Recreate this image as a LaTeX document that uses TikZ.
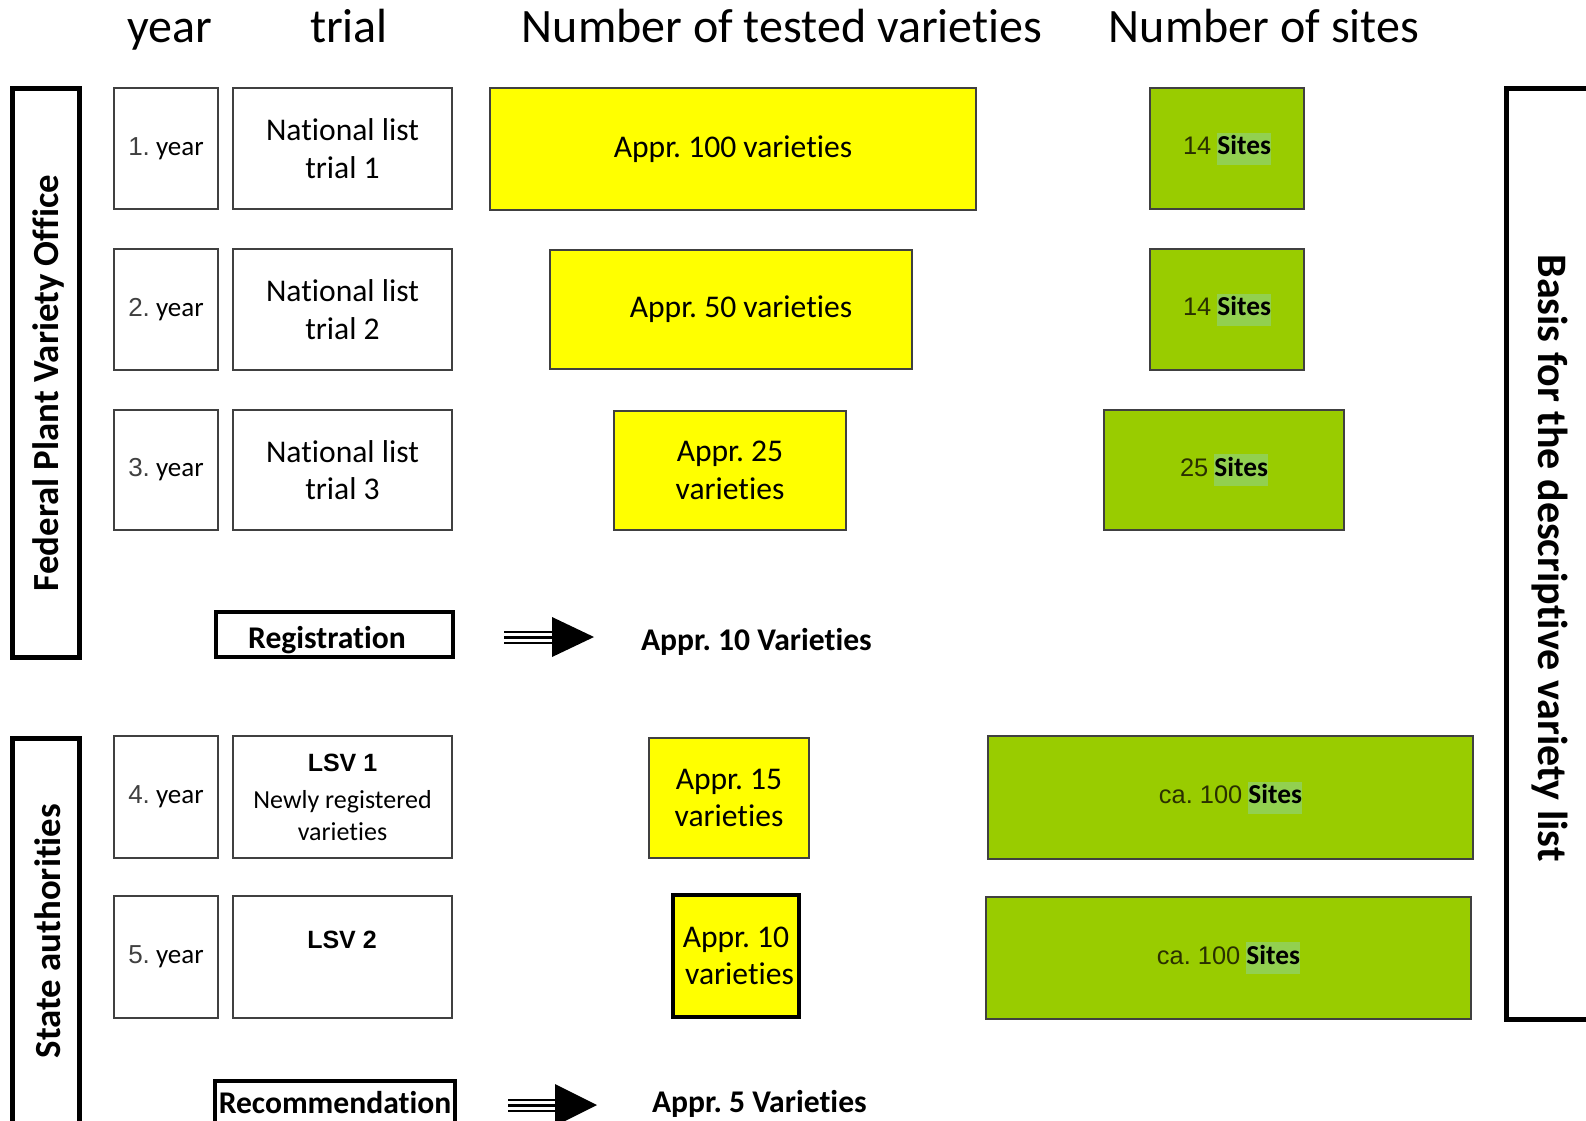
\documentclass[tikz,border=0pt]{standalone}
\usepackage{fontspec}
\setmainfont{Carlito}[Ligatures=NoCommon]
\newfontfamily\arialf{Liberation Sans}
\usetikzlibrary{calc}
\definecolor{ygel}{HTML}{FFFF00}
\definecolor{grn}{HTML}{99CC00}
\definecolor{hlg}{HTML}{92D050}
\definecolor{bord}{HTML}{404040}
\definecolor{dig}{HTML}{2A3000}
\frenchspacing
\newcommand\hls[1]{{\setlength{\fboxsep}{0pt}\colorbox{hlg}{\strut\bfseries #1}}}
\newcommand\yr[1]{{\arialf\fontsize{13}{15}\selectfont\color{bord}#1.}\ year}
% \rbx{name}{x1}{y1}{x2}{y2}{style}{text}
\newcommand\rbx[7]{\node[#6, minimum width={(#4-#2)*0.5pt}, minimum height={(#5-#3)*0.5pt}] (#1) at ({(#2+#4)/2},{(#3+#5)/2}) {#7};}
\newcommand\tfont{\fontsize{15.8}{18.7}\selectfont}
\newcommand\sfont{\fontsize{13.7}{16}\selectfont}
\newcommand\dg[1]{{\arialf\fontsize{12.7}{15}\selectfont\color{dig}#1}}
\tikzset{
  every node/.style={inner sep=0pt, outer sep=0pt},
  wbox/.style={draw=bord, line width=1.2pt, fill=white, align=center},
  ybox/.style={draw=bord, line width=1.2pt, fill=ygel, align=center, font=\tfont},
  gbox/.style={draw=bord, line width=1.2pt, fill=grn, align=center, font=\sfont},
  heavybox/.style={draw=black, line width=2.5pt},
  regbox/.style={draw=black, line width=2pt, fill=white},
  hdr/.style={font=\fontsize{24}{28}\selectfont, anchor=base},
  yfont/.style={font=\fontsize{13.5}{15}\selectfont},
  tfontst/.style={font=\tfont},
  boldlbl/.style={font=\tfont\bfseries},
  sidelbl/.style={font=\fontsize{18.4}{22}\selectfont\bfseries},
}
\begin{document}
\begin{tikzpicture}[x=0.5pt,y=-0.5pt]
\clip (0,0) rectangle (1586,1120);
\fill[white] (0,0) rectangle (1586,1120);
% headers
\node[hdr] (h1) at (170,42) {year};
\node[hdr] (h2) at (349,42) {trial};
\node[hdr] (h3) at (782,42) {Number of tested varieties};
\node[hdr] (h4) at (1264,42) {Number of sites};
% side boxes
\rbx{fed}{12}{88}{79}{657}{heavybox}{}
\node[sidelbl, rotate=90] (fedt) at (48,383) {Federal Plant Variety Office};
\rbx{sta}{12}{738}{79}{1160}{heavybox}{}
\node[sidelbl, rotate=90] (stat) at (48,931) {State authorities};
\rbx{bas}{1506}{88}{1620}{1019}{heavybox}{}
\node[font=\fontsize{21}{25}\selectfont\bfseries, rotate=-90] (bast) at (1550,558) {Basis for the descriptive variety list};
% year boxes
\rbx{y1}{114}{88}{218}{209}{wbox,yfont}{\yr{1}}
\rbx{y2}{114}{249}{218}{370}{wbox,yfont}{\yr{2}}
\rbx{y3}{114}{410}{218}{530}{wbox,yfont}{\yr{3}}
\rbx{y4}{114}{736}{218}{858}{wbox,yfont}{\yr{4}}
\rbx{y5}{114}{896}{218}{1018}{wbox,yfont}{\yr{5}}
% trial boxes
\rbx{t1}{233}{88}{452}{209}{wbox,tfontst}{National list\\trial 1}
\rbx{t2}{233}{249}{452}{370}{wbox,tfontst}{National list\\trial 2}
\rbx{t3}{233}{410}{452}{530}{wbox,tfontst}{National list\\trial 3}
\rbx{t4}{233}{736}{452}{858}{wbox,font=\fontsize{13}{16}\selectfont}{{\arialf\bfseries\fontsize{12.5}{15}\selectfont LSV 1}\\[2.5pt]Newly registered\\varieties}
\rbx{t5}{233}{896}{452}{1018}{wbox}{}
\node[font=\arialf\bfseries\fontsize{12.5}{15}\selectfont] (t5l) at (342,940) {LSV 2};
% yellow boxes
\rbx{v1}{490}{88}{976}{210}{ybox}{Appr. 100 varieties}
\rbx{v2}{550}{250}{912}{369}{ybox}{\hspace*{10pt}Appr. 50 varieties}
\rbx{v3}{614}{411}{846}{530}{ybox}{Appr. 25\\varieties}
\rbx{v4}{649}{738}{809}{858}{ybox}{Appr. 15\\varieties}
\rbx{v5}{673}{895}{799}{1017}{ybox,draw=black,line width=2pt}{Appr. 10\\\ varieties}
% green boxes
\rbx{s1}{1150}{88}{1304}{209}{gbox}{\dg{14} \hls{Sites}}
\rbx{s2}{1150}{249}{1304}{370}{gbox}{\dg{14} \hls{Sites}}
\rbx{s3}{1104}{410}{1344}{530}{gbox}{\dg{25} \hls{Sites}}
\rbx{s4}{988}{736}{1473}{859}{gbox}{\dg{ca. 100} \hls{Sites}}
\rbx{s5}{986}{897}{1471}{1019}{gbox}{\dg{ca. 100} \hls{Sites}}
% registration
\rbx{reg}{216}{612}{453}{657}{regbox}{}
\node[boldlbl] (regt) at (327,640) {Registration};
\node[boldlbl, anchor=base west] (regv) at (641,650) {Appr. 10 Varieties};
\coordinate (ra) at (504,637);
\coordinate (rb) at (552,637);
\coordinate (rc) at (594,637);
\draw[line width=6.5pt] (ra) -- (rb);
\draw[white, line width=4.5pt] (ra) -- (rb);
\draw[line width=1.5pt] (ra) -- (rb);
\fill ($(rb)+(0,-20)$) -- (rc) -- ($(rb)+(0,20)$) -- cycle;
% recommendation
\rbx{rec}{215}{1081}{455}{1160}{regbox}{}
\node[boldlbl, anchor=base] (rect) at (335,1113) {Recommendation};
\node[boldlbl, anchor=base west] (recv) at (652,1112) {Appr. 5 Varieties};
\coordinate (qa) at (508,1105);
\coordinate (qb) at (555,1105);
\coordinate (qc) at (597,1105);
\draw[line width=6.5pt] (qa) -- (qb);
\draw[white, line width=4.5pt] (qa) -- (qb);
\draw[line width=1.5pt] (qa) -- (qb);
\fill ($(qb)+(0,-21)$) -- (qc) -- ($(qb)+(0,21)$) -- cycle;
\end{tikzpicture}
\end{document}
